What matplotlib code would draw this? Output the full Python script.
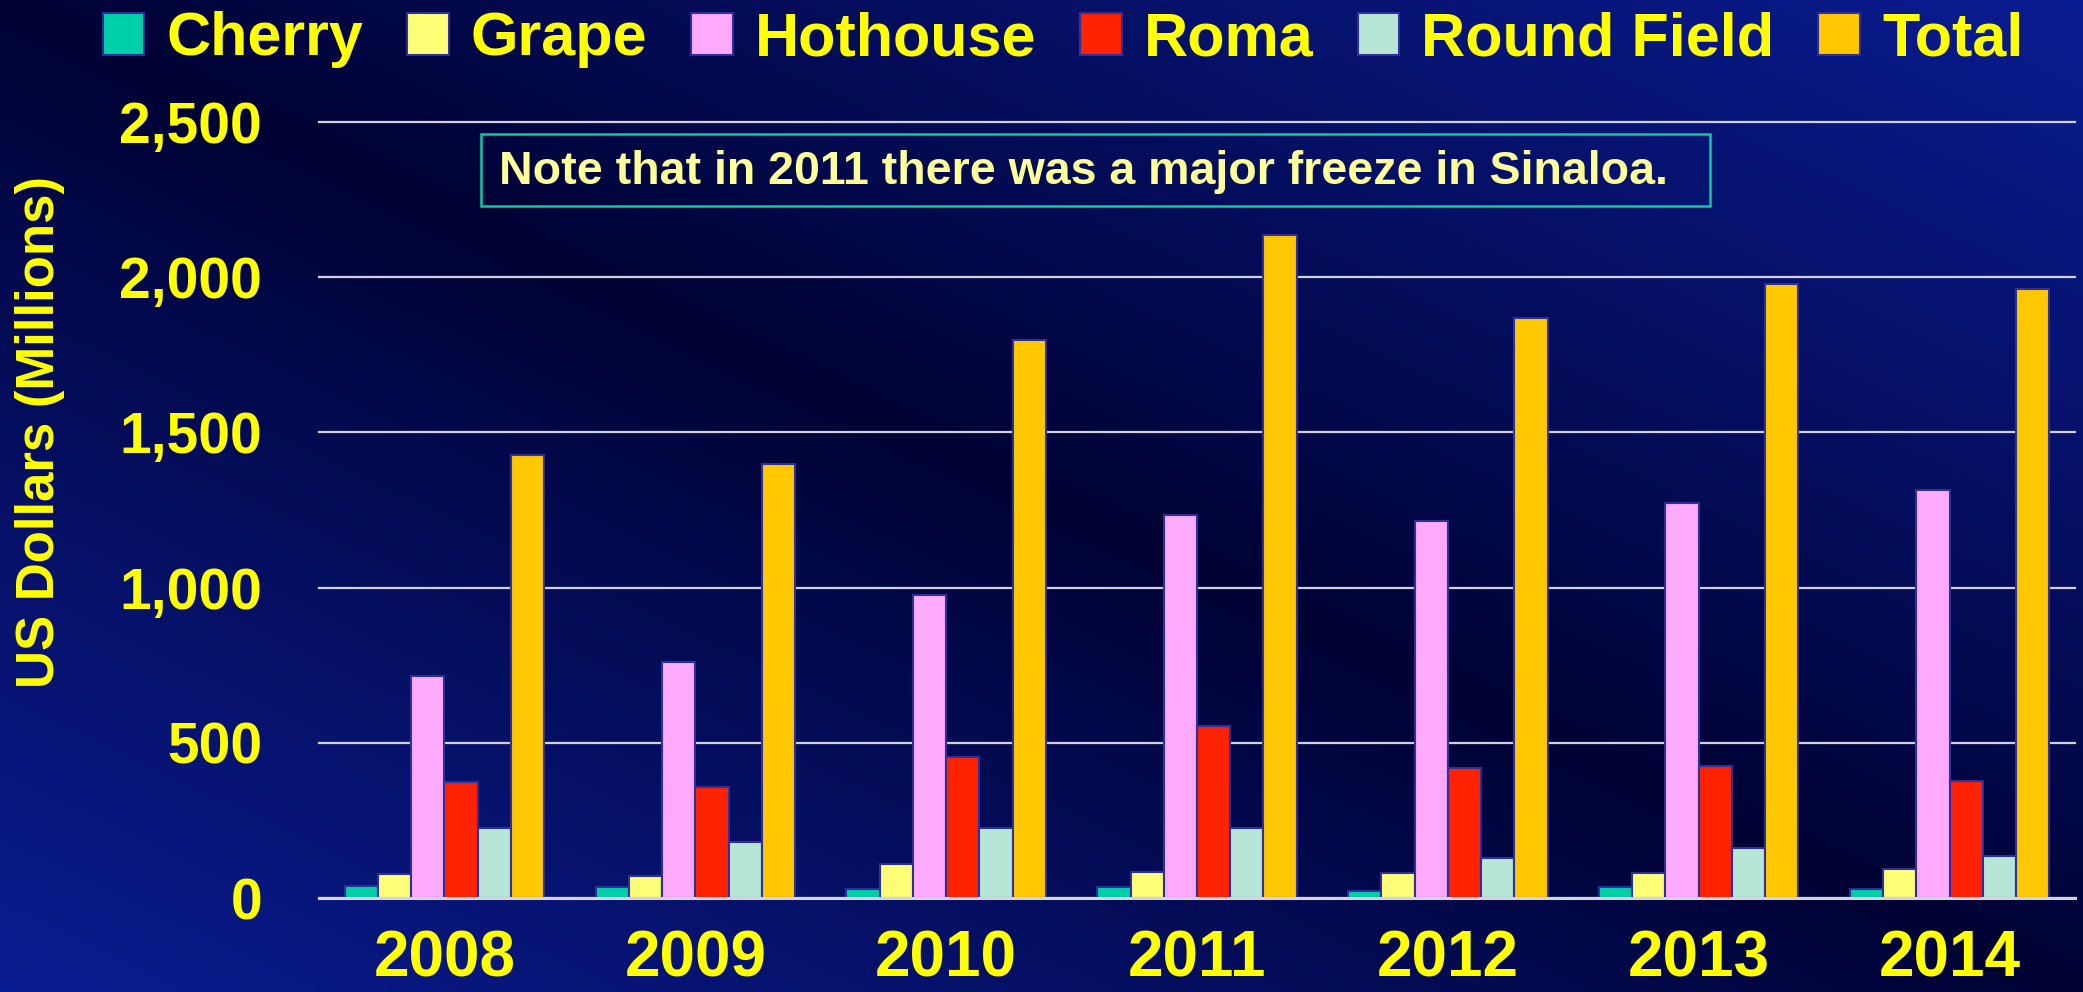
import numpy as np
import matplotlib
matplotlib.use("Agg")
import matplotlib.pyplot as plt
from matplotlib.patches import Patch, Rectangle
from matplotlib.ticker import FuncFormatter, FixedLocator

# ---------------- data ----------------
years = ["2008", "2009", "2010", "2011", "2012", "2013", "2014"]
series = ["Cherry", "Grape", "Hothouse", "Roma", "Round Field", "Total"]
cherry = [38, 34, 29, 34, 21, 34, 28]
grape = [76, 71, 108, 83, 79, 79, 95]
hothouse = [714, 759, 975, 1233, 1214, 1273, 1315]
roma = [373, 356, 454, 555, 418, 425, 378]
round_field = [226, 180, 226, 226, 129, 160, 136]
total = [1428, 1399, 1799, 2137, 1867, 1979, 1961]
values = [cherry, grape, hothouse, roma, round_field, total]
yticks = [0, 500, 1000, 1500, 2000, 2500]
note = "Note that in 2011 there was a major freeze in Sinaloa."

colors = ["#00d0a8", "#ffff77", "#ffaaff", "#ff2200", "#b8e6d6", "#ffc800"]
edge = "#2f2f9c"
yellow = "#ffff00"

plt.rcParams['font.family'] = ['Liberation Sans', 'DejaVu Sans']
plt.rcParams['font.weight'] = 'bold'

W, H = 2083, 992
fig = plt.figure(figsize=(W / 100, H / 100), dpi=100)

# background gradient (diagonal, dark along top-left -> bottom-right)
bg = fig.add_axes([0, 0, 1, 1], zorder=-10)
u = np.linspace(0, 1, 400)[None, :]
v = np.linspace(0, 1, 200)[:, None]
t = np.clip(np.abs(u - v), 0, 1) ** 0.9
dark = np.array([0, 2, 50]) / 255
bright = np.array([10, 28, 145]) / 255
img = dark[None, None, :] + (bright - dark)[None, None, :] * t[:, :, None]
bg.imshow(img, aspect='auto', extent=[0, 1, 0, 1], origin='upper', interpolation='bilinear')
bg.set_axis_off()

left, right = 319 / W, 2075 / W
bottom, top = 1 - 898 / H, 1 - 122 / H
ax = fig.add_axes([left, bottom, right - left, top - bottom])
ax.patch.set_alpha(0)

n = len(series)
x = np.arange(len(years))
bw = 0.795 / n
for i, (vals, c) in enumerate(zip(values, colors)):
    ax.bar(x + (i - (n - 1) / 2) * bw, vals, width=bw, color=c, edgecolor=edge,
           linewidth=1.5, zorder=3)

ax.set_xlim(-0.5, len(years) - 0.5)
ax.set_ylim(0, 2500)
ax.yaxis.set_major_locator(FixedLocator(yticks))
ax.yaxis.set_major_formatter(FuncFormatter(lambda v, p: f"{v:,.0f}"))
ax.set_xticks(x)
ax.set_xticklabels(years)
ax.tick_params(axis='y', length=0, pad=41, labelsize=41, labelcolor=yellow)
ax.tick_params(axis='x', length=0, pad=23, labelsize=46, labelcolor=yellow)
for lab in ax.get_xticklabels() + ax.get_yticklabels():
    lab.set_fontweight('bold')

for s in ['top', 'right', 'left']:
    ax.spines[s].set_visible(False)
ax.spines['bottom'].set_color('#d4d4e0')
ax.spines['bottom'].set_linewidth(2.2)
ax.spines['bottom'].set_zorder(4)
ax.yaxis.grid(True, color='#d0d0e0', linewidth=1.6, zorder=1)
ax.set_axisbelow(True)
for gl in ax.get_ygridlines():
    gl.set_clip_on(False)

fig.text(40 / W, 1 - 432 / H, "US Dollars (Millions)", rotation=90, ha='center',
         va='center', fontsize=38, fontweight='bold', color=yellow)

# note box
fig.patches.append(Rectangle((481 / W, 1 - 206 / H), (1710 - 481) / W, (206 - 134) / H,
                             transform=fig.transFigure, fill=False,
                             edgecolor='#10c8a0', linewidth=1.8, zorder=5))
fig.text(499 / W, 1 - 172 / H, note, ha='left', va='center', fontsize=33.5,
         fontweight='bold', color='#ffff99')

handles = [Patch(facecolor=c, edgecolor=edge, linewidth=1.5, label=s)
           for s, c in zip(series, colors)]
leg = ax.legend(handles=handles, ncol=6, loc='center',
                bbox_to_anchor=(1063 / W, 1 - 40 / H), bbox_transform=fig.transFigure,
                frameon=False, fontsize=44, handlelength=0.68, handleheight=0.66,
                handletextpad=0.36, columnspacing=0.72, borderaxespad=0, borderpad=0)
for txt in leg.get_texts():
    txt.set_color(yellow)
    txt.set_fontweight('bold')

fig.savefig("out.png", dpi=100)
